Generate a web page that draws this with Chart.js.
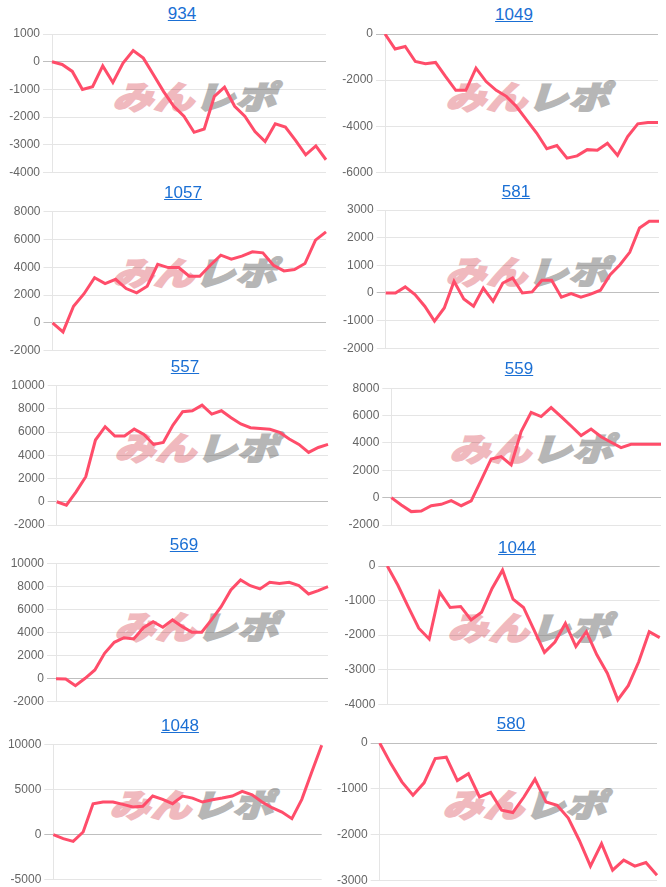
<!DOCTYPE html>
<html><head><meta charset="utf-8">
<script src="https://cdn.jsdelivr.net/npm/chart.js@4.4.1/dist/chart.umd.min.js"></script>
<style>
html,body{margin:0;padding:0;background:#fff;width:666px;height:887px;overflow:hidden;position:relative;font-family:Arial,'Liberation Sans',sans-serif;}
.ttl{position:absolute;transform:translate(-50%,-50%);font-size:17px;color:#1a6fd4;text-decoration:underline;white-space:nowrap;line-height:20px;}
.wm{position:absolute;transform:translate(-50%,-50%) skewX(-18deg) scaleY(0.8);font-family:'Noto Sans CJK JP Black','Noto Sans CJK JP';font-weight:900;font-size:40px;white-space:nowrap;line-height:1;letter-spacing:1px;}
.wm .a{color:rgb(240,185,190);-webkit-text-stroke:2.5px rgb(240,185,190);}
.wm .b{color:rgb(182,182,182);-webkit-text-stroke:2.5px rgb(182,182,182);}
canvas{position:absolute;}
</style>
</head><body>
<script>
// ---- data ----
const machineNames = ['934','1049','1057','581','557','559','569','1044','1048','580'];
const s934  = [0,-100,-350,-1000,-900,-150,-750,-50,400,130,-470,-1080,-1610,-1970,-2550,-2430,-1250,-920,-1610,-1970,-2520,-2880,-2240,-2360,-2840,-3360,-3040,-3540];
const s1049 = [0,-650,-540,-1190,-1290,-1230,-1850,-2440,-2440,-1480,-2060,-2440,-2700,-3140,-3720,-4290,-4970,-4830,-5380,-5280,-5010,-5040,-4730,-5260,-4440,-3890,-3830,-3830];
const s1057 = [0,-650,1200,2100,3250,2830,3140,2470,2160,2640,4220,3980,3980,3360,3360,4150,4870,4580,4800,5110,5040,4150,3740,3840,4270,5950,6550];
const s581  = [0,0,220,-60,-480,-1020,-540,420,-220,-480,180,-300,360,540,0,40,460,460,-150,-20,-150,-40,100,660,1020,1470,2350,2590,2590];
const s557  = [0,-290,860,2160,5320,6470,5660,5660,6260,5800,4940,5110,6610,7760,7840,8330,7550,7840,7240,6700,6380,6320,6240,5980,5400,4940,4250,4680,4940];
const s559  = [0,-540,-1020,-980,-590,-490,-220,-590,-240,1290,2830,3000,2390,4830,6240,5930,6590,5930,5240,4540,5020,4460,4050,3660,3900,3900,3900,3900];
const s569  = [0,-30,-610,30,750,2200,3150,3550,3440,4420,4940,4450,5090,4510,4020,4020,5090,6240,7690,8560,8060,7780,8350,8240,8350,8060,7340,7630,7980];
const s1044 = [0,-550,-1180,-1800,-2110,-760,-1200,-1170,-1560,-1340,-650,-120,-960,-1200,-1850,-2500,-2200,-1660,-2330,-1900,-2570,-3100,-3870,-3460,-2770,-1900,-2070];
const s1048 = [0,-440,-740,300,3440,3630,3630,3370,3070,3150,4300,3930,3440,4300,4070,3630,3890,4070,4300,4810,4440,3630,3000,2520,1780,3930,6960,9930];
const s580  = [0,-450,-850,-1140,-870,-340,-310,-820,-670,-1180,-1080,-1470,-1520,-1180,-790,-1290,-1360,-1640,-2130,-2690,-2200,-2780,-2560,-2690,-2610,-2890];
const seriesList = [s934,s1049,s1057,s581,s557,s559,s569,s1044,s1048,s580];
// y tick settings
const yMin  = [-4000,-6000,-2000,-2000,-2000,-2000,-2000,-4000,-5000,-3000];
const yMax  = [1000,0,8000,3000,10000,8000,10000,0,10000,0];
const yStep = [1000,2000,2000,1000,2000,2000,2000,1000,5000,1000];

// ---- layout (page px) ----
const layout = [
 {col:0,   L:52,    R:326,   T:34,    B:172.5, tx:182, ty:14,  wx:199, wy:95},
 {col:333, L:385,   R:658,   T:34,    B:172.5, tx:514, ty:15,  wx:532, wy:95},
 {col:0,   L:52.5,  R:326,   T:211.7, B:350.7, tx:183, ty:193, wx:199, wy:271},
 {col:333, L:385.7, R:659,   T:210,   B:348.3, tx:516, ty:192, wx:532, wy:270},
 {col:0,   L:56.7,  R:328,   T:385.7, B:525,   tx:185, ty:367, wx:201, wy:446},
 {col:333, L:391.3, R:661,   T:388.3, B:525,   tx:519, ty:369, wx:536, wy:447},
 {col:0,   L:56,    R:328,   T:563.3, B:701.7, tx:184, ty:545, wx:201, wy:625},
 {col:333, L:387.3, R:659.7, T:566,   B:704.3, tx:517, ty:548, wx:534, wy:626},
 {col:0,   L:53.3,  R:321.7, T:744.7, B:879.7, tx:180, ty:726, wx:196, wy:803},
 {col:333, L:379.7, R:657,   T:743,   B:880.3, tx:511, ty:724, wx:529, wy:803}
];

Chart.defaults.font.family = "'Helvetica Neue', Helvetica, Arial, 'Liberation Sans', sans-serif";
Chart.defaults.font.size = 12;
Chart.defaults.color = '#666';

layout.forEach((p, i) => {
  const wm = document.createElement('div');
  wm.className = 'wm';
  wm.style.left = p.wx + 'px'; wm.style.top = p.wy + 'px';
  wm.innerHTML = '<span class="a">みん</span><span class="b">レポ</span>';
  document.body.appendChild(wm);

  const t = document.createElement('a');
  t.className = 'ttl'; t.href = '#';
  t.textContent = machineNames[i];
  t.style.left = p.tx + 'px'; t.style.top = p.ty + 'px';
  document.body.appendChild(t);

  const cTop = Math.floor(p.T) - 12;
  const cH = Math.ceil(p.B) + 12 - cTop;
  const cW = Math.ceil(p.R) + 6 - p.col;
  const cv = document.createElement('canvas');
  cv.width = cW; cv.height = cH;
  cv.style.left = p.col + 'px'; cv.style.top = cTop + 'px';
  cv.style.width = cW + 'px'; cv.style.height = cH + 'px';
  document.body.appendChild(cv);

  const data = seriesList[i];
  const axisW = p.L - p.col;
  new Chart(cv, {
    type: 'line',
    data: {
      labels: data.map((_, k) => String(k + 1)),
      datasets: [{
        data: data,
        borderColor: '#ff4d6a',
        backgroundColor: '#ff4d6a',
        borderWidth: 3,
        pointRadius: 0,
        pointHoverRadius: 0,
        tension: 0,
        fill: false
      }]
    },
    options: {
      responsive: false,
      animation: false,
      events: [],
      layout: { padding: { left: 0, top: p.T - cTop, bottom: cTop + cH - p.B, right: p.col + cW - p.R } },
      plugins: { legend: { display: false }, tooltip: { enabled: false }, title: { display: false } },
      scales: {
        x: { display: false, offset: false },
        y: {
          min: yMin[i], max: yMax[i],
          ticks: { stepSize: yStep[i], padding: 3, color: '#666', font: { size: 12 }, callback: (v) => String(v) },
          grid: {
            color: (c) => (c.tick && c.tick.value === 0) ? 'rgba(0,0,0,0.25)' : 'rgba(0,0,0,0.1)',
            tickLength: 9,
            drawTicks: true
          },
          border: { display: true, color: 'rgba(0,0,0,0.1)' },
          afterFit: (s) => { s.width = axisW; }
        }
      }
    }
  });
});
</script>
</body></html>
